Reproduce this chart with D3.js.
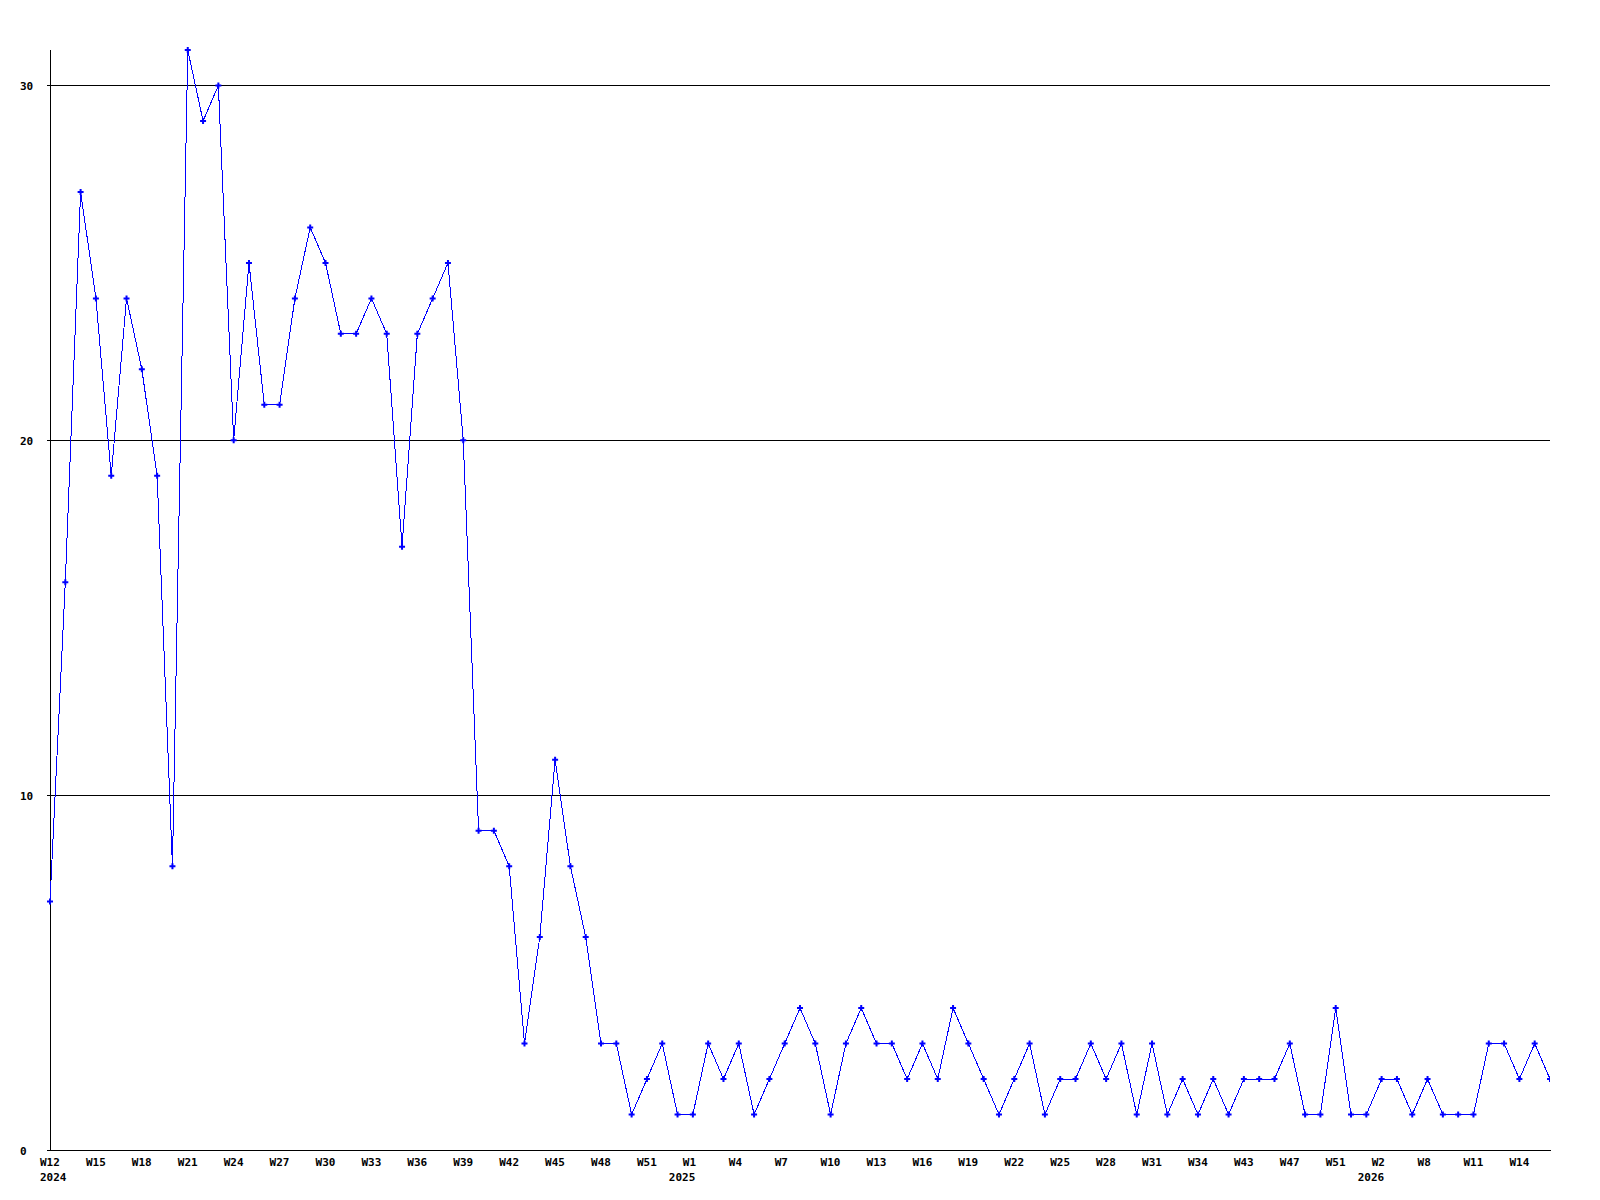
<!DOCTYPE html>
<html>
<head>
<meta charset="utf-8">
<script src="https://cdn.jsdelivr.net/npm/d3@7"></script>
<style>
  body { margin: 0; background: #fff; }
  svg text { font-family: "DejaVu Sans Mono", monospace; font-weight: bold; font-size: 11px; fill: #000; }
</style>
</head>
<body>
<div id="chart"></div>
<script>
// weekly counts, one per point, W12 2024 onwards
const values = [
  7, 16, 27, 24, 19, 24, 22, 19, 8, 31,
  29, 30, 20, 25, 21, 21, 24, 26, 25, 23,
  23, 24, 23, 17, 23, 24, 25, 20, 9, 9,
  8, 3, 6, 11, 8, 6, 3, 3, 1, 2,
  3, 1, 1, 3, 2, 3, 1, 2, 3, 4,
  3, 1, 3, 4, 3, 3, 2, 3, 2, 4,
  3, 2, 1, 2, 3, 1, 2, 2, 3, 2,
  3, 1, 3, 1, 2, 1, 2, 1, 2, 2,
  2, 3, 1, 1, 4, 1, 1, 2, 2, 1,
  2, 1, 1, 1, 3, 3, 2, 3, 2
];

// labels shown every third point
const weekLabels = [
  "W12", "W15", "W18", "W21", "W24", "W27", "W30", "W33", "W36", "W39", "W42", "W45", "W48", "W51",
  "W1", "W4", "W7", "W10", "W13", "W16", "W19", "W22", "W25", "W28", "W31", "W34", "W43", "W47", "W51",
  "W2", "W8", "W11", "W14"
];
const labelStep = 3;

// year shown under the label at this position in weekLabels
const yearPos = [0, 14, 29];
const yearText = ["2024", "2025", "2026"];

const yTicks = [0, 10, 20, 30];

const width = 1600;
const height = 1200;
const margin = { top: 50, right: 50, bottom: 50, left: 50 };

const svg = d3.select("#chart")
  .append("svg")
  .attr("width", width)
  .attr("height", height);

const x = d3.scaleLinear()
  .domain([0, values.length - 1])
  .range([margin.left, width - margin.right]);

const y = d3.scaleLinear()
  .domain([0, d3.max(values)])
  .range([height - margin.bottom, margin.top]);

// clip so the last marker does not spill over the right edge
svg.append("defs").append("clipPath")
  .attr("id", "plot-clip")
  .append("rect")
  .attr("x", margin.left - 4)
  .attr("y", 0)
  .attr("width", width - margin.right - margin.left + 4)
  .attr("height", height);

// y grid + axis
const yAxis = svg.append("g")
  .attr("transform", `translate(${margin.left},0)`)
  .call(d3.axisLeft(y)
    .tickValues(yTicks)
    .tickSize(-(width - margin.left - margin.right))
    .tickSizeOuter(0)
    .tickFormat(d3.format("d")));

yAxis.selectAll("path.domain")
  .attr("stroke", "#000")
  .attr("d", `M0.5,${margin.top}V${height - margin.bottom}`)
  .attr("shape-rendering", "crispEdges");
yAxis.selectAll(".tick line")
  .attr("stroke", "#000")
  .attr("x1", -3)
  .attr("shape-rendering", "crispEdges");
yAxis.selectAll(".tick text")
  .attr("x", 20 - margin.left)
  .attr("dy", "4")
  .attr("text-anchor", "start")
  .attr("font-family", null)
  .attr("font-size", null);

// x axis
const labelIndex = weekLabels.map((_, i) => i * labelStep);

const xAxis = svg.append("g")
  .attr("transform", `translate(0,${height - margin.bottom})`)
  .call(d3.axisBottom(x)
    .tickValues(labelIndex)
    .tickSize(0)
    .tickFormat((d, i) => weekLabels[i]));

xAxis.selectAll("path.domain")
  .attr("stroke", "#000")
  .attr("shape-rendering", "crispEdges");
xAxis.selectAll(".tick text")
  .attr("x", -10.5)
  .attr("y", 16)
  .attr("dy", null)
  .attr("text-anchor", "start")
  .attr("font-family", null)
  .attr("font-size", null);

// year line under the first week of each year
xAxis.selectAll(".tick")
  .each(function(d, i) {
    const k = yearPos.indexOf(i);
    if (k < 0) return;
    const first = i === 0;
    d3.select(this).append("text")
      .attr("x", first ? -10.5 : 2)
      .attr("y", 31)
      .attr("text-anchor", first ? "start" : "end")
      .text(yearText[k]);
  });

// series
const plot = svg.append("g").attr("clip-path", "url(#plot-clip)");

const line = d3.line()
  .x((d, i) => x(i))
  .y(d => y(d));

plot.append("path")
  .datum(values)
  .attr("fill", "none")
  .attr("stroke", "#0000ff")
  .attr("stroke-width", 1)
  .attr("shape-rendering", "crispEdges")
  .attr("d", line);

const marker = d3.symbol().type(d3.symbolCross).size(20);

plot.selectAll(".pt")
  .data(values)
  .join("path")
  .attr("class", "pt")
  .attr("transform", (d, i) => `translate(${x(i)},${y(d)})`)
  .attr("d", marker)
  .attr("fill", "#0000ff");
</script>
</body>
</html>
